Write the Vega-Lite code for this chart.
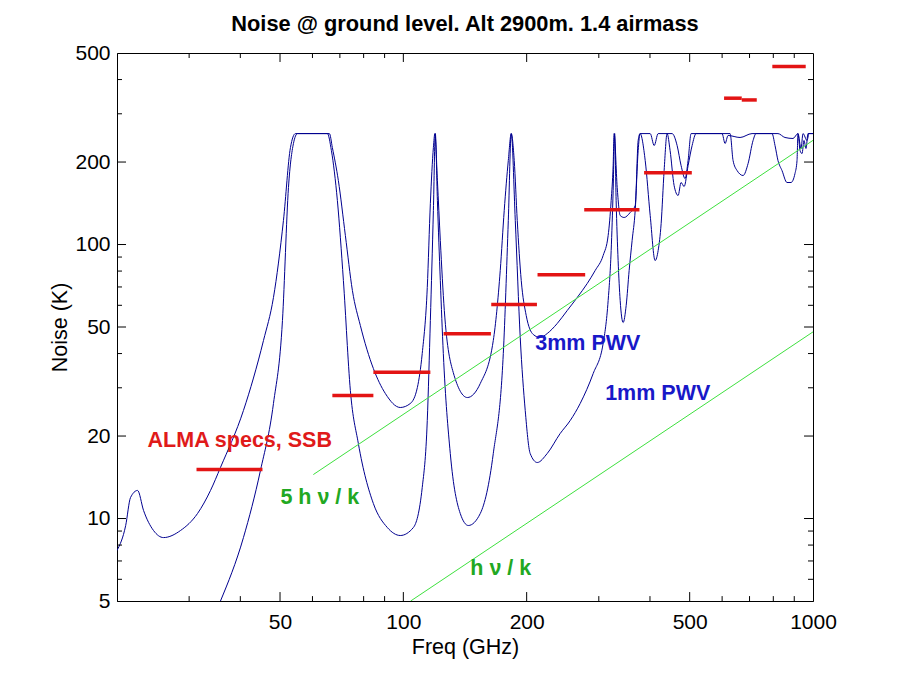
{
 "$schema": "https://vega.github.io/schema/vega-lite/v6.json",
 "autosize": {"type": "none"},
 "padding": {"left": 117, "top": 53, "right": 87, "bottom": 74},
 "width": 696,
 "height": 548,
 "background": "white",
 "title": {"text": "Noise @ ground level. Alt 2900m. 1.4 airmass", "font": "Liberation Sans", "fontSize": 21.8, "fontWeight": "bold", "color": "black", "offset": 6, "anchor": "middle"},
 "config": {
  "view": {"stroke": "black", "strokeWidth": 1},
  "axis": {"grid": false, "ticks": false, "domainColor": "black", "labelColor": "black", "titleColor": "black", "labelFont": "Liberation Sans", "titleFont": "Liberation Sans", "labelFontSize": 21, "titleFontSize": 21.5, "titleFontWeight": "normal", "labelFlush": false, "labelOverlap": false, "domainWidth": 1}
 },
 "datasets": {
  "curves": [
   {"s": "3mm", "f": 20.0, "T": 7.64}, {"s": "3mm", "f": 21.0, "T": 9.43}, {"s": "3mm", "f": 21.58, "T": 11.93}, {"s": "3mm", "f": 22.45, "T": 12.66},
   {"s": "3mm", "f": 23.22, "T": 10.7}, {"s": "3mm", "f": 24.56, "T": 9.04}, {"s": "3mm", "f": 25.98, "T": 8.52}, {"s": "3mm", "f": 28.58, "T": 9.04},
   {"s": "3mm", "f": 31.45, "T": 10.43}, {"s": "3mm", "f": 33.83, "T": 12.66}, {"s": "3mm", "f": 35.78, "T": 15.36}, {"s": "3mm", "f": 40.71, "T": 24.79},
   {"s": "3mm", "f": 45.56, "T": 44.63}, {"s": "3mm", "f": 48.19, "T": 64.06}, {"s": "3mm", "f": 50.97, "T": 122.4}, {"s": "3mm", "f": 53.02, "T": 225.9},
   {"s": "3mm", "f": 54.53, "T": 254}, {"s": "3mm", "f": 66.0, "T": 254}, {"s": "3mm", "f": 67.1, "T": 225.9}, {"s": "3mm", "f": 69.4, "T": 171.2},
   {"s": "3mm", "f": 72.2, "T": 107.8}, {"s": "3mm", "f": 75.1, "T": 67.96}, {"s": "3mm", "f": 78.54, "T": 50.6}, {"s": "3mm", "f": 84.5, "T": 35.27},
   {"s": "3mm", "f": 90.4, "T": 28.58}, {"s": "3mm", "f": 98.3, "T": 25.42}, {"s": "3mm", "f": 104.0, "T": 26.29}, {"s": "3mm", "f": 108.2, "T": 30.07},
   {"s": "3mm", "f": 111.2, "T": 40.02}, {"s": "3mm", "f": 114.4, "T": 69.67}, {"s": "3mm", "f": 116.4, "T": 141.1}, {"s": "3mm", "f": 118.4, "T": 225.9},
   {"s": "3mm", "f": 119.4, "T": 254}, {"s": "3mm", "f": 121.1, "T": 171.2}, {"s": "3mm", "f": 123.1, "T": 103.4}, {"s": "3mm", "f": 125.9, "T": 57.42},
   {"s": "3mm", "f": 132.4, "T": 34.1}, {"s": "3mm", "f": 143.3, "T": 27.64}, {"s": "3mm", "f": 154.1, "T": 31.1}, {"s": "3mm", "f": 165.8, "T": 44.63},
   {"s": "3mm", "f": 172.4, "T": 80.4}, {"s": "3mm", "f": 176.3, "T": 133.1}, {"s": "3mm", "f": 180.4, "T": 202.6}, {"s": "3mm", "f": 183.4, "T": 254},
   {"s": "3mm", "f": 186.5, "T": 202.6}, {"s": "3mm", "f": 189.7, "T": 122.4}, {"s": "3mm", "f": 194.0, "T": 73.9}, {"s": "3mm", "f": 199.5, "T": 55.06},
   {"s": "3mm", "f": 207.6, "T": 46.94}, {"s": "3mm", "f": 215.9, "T": 45.77}, {"s": "3mm", "f": 224.5, "T": 47.34}, {"s": "3mm", "f": 237.4, "T": 51.47},
   {"s": "3mm", "f": 251.2, "T": 57.42}, {"s": "3mm", "f": 265.7, "T": 64.06}, {"s": "3mm", "f": 281.1, "T": 72.06}, {"s": "3mm", "f": 294.0, "T": 80.4},
   {"s": "3mm", "f": 307.4, "T": 91.17}, {"s": "3mm", "f": 316.2, "T": 107.8}, {"s": "3mm", "f": 321.6, "T": 144.7}, {"s": "3mm", "f": 325.2, "T": 194.2},
   {"s": "3mm", "f": 327.0, "T": 254}, {"s": "3mm", "f": 332.7, "T": 161.4}, {"s": "3mm", "f": 338.3, "T": 127.6}, {"s": "3mm", "f": 346.0, "T": 125.5},
   {"s": "3mm", "f": 357.9, "T": 130.9}, {"s": "3mm", "f": 368.1, "T": 138.8}, {"s": "3mm", "f": 374.3, "T": 239.7}, {"s": "3mm", "f": 378.4, "T": 254},
   {"s": "3mm", "f": 400.5, "T": 254}, {"s": "3mm", "f": 409.6, "T": 229.8}, {"s": "3mm", "f": 418.8, "T": 254}, {"s": "3mm", "f": 453.0, "T": 254},
   {"s": "3mm", "f": 465.9, "T": 229.8}, {"s": "3mm", "f": 476.4, "T": 194.2}, {"s": "3mm", "f": 487.3, "T": 174.1}, {"s": "3mm", "f": 495.6, "T": 202.6},
   {"s": "3mm", "f": 504.0, "T": 254}, {"s": "3mm", "f": 599.8, "T": 254}, {"s": "3mm", "f": 610.1, "T": 233.7}, {"s": "3mm", "f": 620.5, "T": 250},
   {"s": "3mm", "f": 663.7, "T": 245.8}, {"s": "3mm", "f": 709.9, "T": 254}, {"s": "3mm", "f": 821.3, "T": 254}, {"s": "3mm", "f": 854.3, "T": 245.8},
   {"s": "3mm", "f": 893.6, "T": 243.8}, {"s": "3mm", "f": 919.1, "T": 254}, {"s": "3mm", "f": 934.8, "T": 224.1}, {"s": "3mm", "f": 945.4, "T": 254},
   {"s": "3mm", "f": 967.0, "T": 239.7}, {"s": "3mm", "f": 977.7, "T": 254}, {"s": "3mm", "f": 1000, "T": 254},
   {"s": "1mm", "f": 35.78, "T": 5.0}, {"s": "1mm", "f": 40.71, "T": 8.52}, {"s": "1mm", "f": 44.79, "T": 14.97}, {"s": "1mm", "f": 48.19, "T": 26.29},
   {"s": "1mm", "f": 50.69, "T": 52.8}, {"s": "1mm", "f": 52.43, "T": 161.4}, {"s": "1mm", "f": 53.92, "T": 233.7}, {"s": "1mm", "f": 55.15, "T": 254},
   {"s": "1mm", "f": 65.26, "T": 254}, {"s": "1mm", "f": 66.74, "T": 220.3}, {"s": "1mm", "f": 69.02, "T": 144.7}, {"s": "1mm", "f": 71.4, "T": 73.9},
   {"s": "1mm", "f": 74.25, "T": 29.32}, {"s": "1mm", "f": 77.66, "T": 18.78}, {"s": "1mm", "f": 84.5, "T": 11.34}, {"s": "1mm", "f": 91.4, "T": 9.27},
   {"s": "1mm", "f": 98.3, "T": 8.67}, {"s": "1mm", "f": 105.8, "T": 9.27}, {"s": "1mm", "f": 111.2, "T": 12.97}, {"s": "1mm", "f": 114.4, "T": 22.79},
   {"s": "1mm", "f": 116.4, "T": 52.8}, {"s": "1mm", "f": 118.4, "T": 133.1}, {"s": "1mm", "f": 119.7, "T": 254}, {"s": "1mm", "f": 121.1, "T": 144.7},
   {"s": "1mm", "f": 123.1, "T": 73.9}, {"s": "1mm", "f": 125.2, "T": 40.02}, {"s": "1mm", "f": 130.2, "T": 17.27}, {"s": "1mm", "f": 137.7, "T": 10.43},
   {"s": "1mm", "f": 144.1, "T": 9.43}, {"s": "1mm", "f": 154.1, "T": 10.43}, {"s": "1mm", "f": 165.8, "T": 17.27}, {"s": "1mm", "f": 175.4, "T": 40.02},
   {"s": "1mm", "f": 180.4, "T": 122.4}, {"s": "1mm", "f": 183.4, "T": 254}, {"s": "1mm", "f": 187.6, "T": 122.4}, {"s": "1mm", "f": 192.9, "T": 45.77},
   {"s": "1mm", "f": 198.4, "T": 24.79}, {"s": "1mm", "f": 204.0, "T": 17.27}, {"s": "1mm", "f": 212.3, "T": 16.01}, {"s": "1mm", "f": 224.5, "T": 17.27},
   {"s": "1mm", "f": 241.4, "T": 20.42}, {"s": "1mm", "f": 255.5, "T": 22.79}, {"s": "1mm", "f": 270.2, "T": 26.29}, {"s": "1mm", "f": 290.7, "T": 33.82},
   {"s": "1mm", "f": 307.4, "T": 43.52}, {"s": "1mm", "f": 316.2, "T": 62.45}, {"s": "1mm", "f": 321.6, "T": 95.1}, {"s": "1mm", "f": 325.2, "T": 157.4},
   {"s": "1mm", "f": 328.0, "T": 254}, {"s": "1mm", "f": 330.7, "T": 144.7}, {"s": "1mm", "f": 334.4, "T": 87.4}, {"s": "1mm", "f": 338.3, "T": 62.45},
   {"s": "1mm", "f": 344.0, "T": 51.9}, {"s": "1mm", "f": 349.9, "T": 59.9}, {"s": "1mm", "f": 355.8, "T": 80.4}, {"s": "1mm", "f": 361.8, "T": 103.4},
   {"s": "1mm", "f": 368.1, "T": 133.1}, {"s": "1mm", "f": 374.3, "T": 220.3}, {"s": "1mm", "f": 378.4, "T": 254}, {"s": "1mm", "f": 389.4, "T": 202.6},
   {"s": "1mm", "f": 400.5, "T": 127.6}, {"s": "1mm", "f": 411.7, "T": 87.4}, {"s": "1mm", "f": 418.8, "T": 95.1}, {"s": "1mm", "f": 425.9, "T": 119.3},
   {"s": "1mm", "f": 433.1, "T": 186.2}, {"s": "1mm", "f": 440.4, "T": 254}, {"s": "1mm", "f": 447.9, "T": 220.3}, {"s": "1mm", "f": 458.1, "T": 164.2},
   {"s": "1mm", "f": 468.5, "T": 151.0}, {"s": "1mm", "f": 476.4, "T": 168.4}, {"s": "1mm", "f": 484.6, "T": 162.8}, {"s": "1mm", "f": 495.6, "T": 194.2},
   {"s": "1mm", "f": 506.9, "T": 229.8}, {"s": "1mm", "f": 518.4, "T": 254}, {"s": "1mm", "f": 627.5, "T": 254}, {"s": "1mm", "f": 638.1, "T": 202.6},
   {"s": "1mm", "f": 652.6, "T": 186.2}, {"s": "1mm", "f": 675.1, "T": 178.6}, {"s": "1mm", "f": 694.3, "T": 197.5}, {"s": "1mm", "f": 714.0, "T": 239.7},
   {"s": "1mm", "f": 726.1, "T": 254}, {"s": "1mm", "f": 794.3, "T": 254}, {"s": "1mm", "f": 807.8, "T": 229.8}, {"s": "1mm", "f": 821.3, "T": 202.6},
   {"s": "1mm", "f": 840.1, "T": 186.2}, {"s": "1mm", "f": 864.1, "T": 168.4}, {"s": "1mm", "f": 883.7, "T": 168.4}, {"s": "1mm", "f": 903.7, "T": 181.6},
   {"s": "1mm", "f": 914.1, "T": 202.6}, {"s": "1mm", "f": 919.1, "T": 254}, {"s": "1mm", "f": 929.7, "T": 220.3}, {"s": "1mm", "f": 940.2, "T": 214.8},
   {"s": "1mm", "f": 950.7, "T": 239.7}, {"s": "1mm", "f": 961.4, "T": 224.1}, {"s": "1mm", "f": 972.2, "T": 254}, {"s": "1mm", "f": 1000, "T": 254}
  ],
  "hnu": [
   {"line": "5hnu/k", "f": 60.3, "T": 14.47}, {"line": "5hnu/k", "f": 1000, "T": 239.95},
   {"line": "hnu/k", "f": 104.2, "T": 5.0}, {"line": "hnu/k", "f": 1000, "T": 47.99}
  ],
  "alma": [
   {"band": 1, "f1": 31.27, "f2": 45.3, "T": 15.1},
   {"band": 2, "f1": 67.1, "f2": 84.5, "T": 28.1},
   {"band": 3, "f1": 84.5, "f2": 116.4, "T": 34.2},
   {"band": 4, "f1": 125.4, "f2": 163.6, "T": 47.2},
   {"band": 5, "f1": 163.9, "f2": 211.9, "T": 60.4},
   {"band": 6, "f1": 212.6, "f2": 277.9, "T": 77.5},
   {"band": 7, "f1": 276.4, "f2": 377.0, "T": 133.8},
   {"band": 8, "f1": 387.0, "f2": 506.0, "T": 182.7},
   {"band": 9, "f1": 606.6, "f2": 670.0, "T": 342},
   {"band": 9, "f1": 670.0, "f2": 729.0, "T": 337},
   {"band": 10, "f1": 795.6, "f2": 959.9, "T": 446.2}
  ],
  "labels": [
   {"text": "ALMA specs, SSB", "g": "alma", "f": 23.75, "T": 19.26},
   {"text": "5 h ν / k", "g": "hnu", "f": 50.1, "T": 11.93},
   {"text": "h ν / k", "g": "hnu", "f": 145.7, "T": 6.57},
   {"text": "3mm PWV", "g": "pwv", "f": 209.9, "T": 43.5},
   {"text": "1mm PWV", "g": "pwv", "f": 310.9, "T": 28.36}
  ],
  "xticks": [
   {"f": 30, "kind": "minor"}, {"f": 40, "kind": "minor"}, {"f": 50, "kind": "major"}, {"f": 60, "kind": "minor"},
   {"f": 70, "kind": "minor"}, {"f": 80, "kind": "minor"}, {"f": 90, "kind": "minor"}, {"f": 100, "kind": "major"},
   {"f": 200, "kind": "major"}, {"f": 300, "kind": "minor"}, {"f": 400, "kind": "minor"}, {"f": 500, "kind": "major"},
   {"f": 600, "kind": "minor"}, {"f": 700, "kind": "minor"}, {"f": 800, "kind": "minor"}, {"f": 900, "kind": "minor"}
  ],
  "yticks": [
   {"T": 6, "kind": "minor"}, {"T": 7, "kind": "minor"}, {"T": 8, "kind": "minor"}, {"T": 9, "kind": "minor"},
   {"T": 10, "kind": "major"}, {"T": 20, "kind": "major"}, {"T": 30, "kind": "minor"}, {"T": 40, "kind": "minor"},
   {"T": 50, "kind": "major"}, {"T": 60, "kind": "minor"}, {"T": 70, "kind": "minor"}, {"T": 80, "kind": "minor"},
   {"T": 90, "kind": "minor"}, {"T": 100, "kind": "major"}, {"T": 200, "kind": "major"}, {"T": 300, "kind": "minor"},
   {"T": 400, "kind": "minor"}
  ]
 },
 "layer": [
  {
   "data": {"name": "curves"},
   "mark": {"type": "line", "color": "#00008f", "strokeWidth": 1, "clip": true, "interpolate": "monotone"},
   "encoding": {
    "x": {"field": "f", "type": "quantitative", "scale": {"type": "log", "domain": [20, 1000], "nice": false},
          "axis": {"orient": "bottom", "values": [50, 100, 200, 500, 1000], "format": "d", "labelPadding": 10, "title": "Freq (GHz)", "titlePadding": 4}},
    "y": {"field": "T", "type": "quantitative", "scale": {"type": "log", "domain": [5, 500], "nice": false},
          "axis": {"orient": "left", "values": [5, 10, 20, 50, 100, 200, 500], "format": "d", "labelPadding": 7, "title": "Noise (K)", "titlePadding": 3}},
    "detail": {"field": "s"}
   }
  },
  {
   "data": {"name": "hnu"},
   "mark": {"type": "line", "color": "#3ee03e", "strokeWidth": 1, "clip": true},
   "encoding": {
    "x": {"field": "f", "type": "quantitative"},
    "y": {"field": "T", "type": "quantitative"},
    "detail": {"field": "line"}
   }
  },
  {
   "data": {"name": "alma"},
   "mark": {"type": "rule", "color": "#e31414", "strokeWidth": 3.5, "clip": true},
   "encoding": {
    "x": {"field": "f1", "type": "quantitative"},
    "x2": {"field": "f2"},
    "y": {"field": "T", "type": "quantitative"}
   }
  },
  {
   "data": {"name": "labels"},
   "mark": {"type": "text", "align": "left", "baseline": "middle", "font": "Liberation Sans", "fontSize": 21.5, "fontWeight": "bold"},
   "encoding": {
    "x": {"field": "f", "type": "quantitative"},
    "y": {"field": "T", "type": "quantitative"},
    "text": {"field": "text"},
    "color": {"field": "g", "type": "nominal", "scale": {"domain": ["alma", "hnu", "pwv"], "range": ["#e01a1a", "#22a822", "#1818c8"]}, "legend": null}
   }
  },
  {
   "data": {"name": "xticks"},
   "transform": [{"filter": "datum.kind == 'major'"}],
   "mark": {"type": "rule", "color": "black", "strokeWidth": 1},
   "encoding": {
    "x": {"field": "f", "type": "quantitative"},
    "y": {"datum": 5, "type": "quantitative"},
    "y2": {"datum": 5.39}
   }
  },
  {
   "data": {"name": "xticks"},
   "transform": [{"filter": "datum.kind == 'minor'"}],
   "mark": {"type": "rule", "color": "black", "strokeWidth": 1},
   "encoding": {
    "x": {"field": "f", "type": "quantitative"},
    "y": {"datum": 5, "type": "quantitative"},
    "y2": {"datum": 5.21}
   }
  },
  {
   "data": {"name": "xticks"},
   "transform": [{"filter": "datum.kind == 'major'"}],
   "mark": {"type": "rule", "color": "black", "strokeWidth": 1},
   "encoding": {
    "x": {"field": "f", "type": "quantitative"},
    "y": {"datum": 463.6, "type": "quantitative"},
    "y2": {"datum": 500}
   }
  },
  {
   "data": {"name": "xticks"},
   "transform": [{"filter": "datum.kind == 'minor'"}],
   "mark": {"type": "rule", "color": "black", "strokeWidth": 1},
   "encoding": {
    "x": {"field": "f", "type": "quantitative"},
    "y": {"datum": 479.4, "type": "quantitative"},
    "y2": {"datum": 500}
   }
  },
  {
   "data": {"name": "yticks"},
   "transform": [{"filter": "datum.kind == 'major'"}],
   "mark": {"type": "rule", "color": "black", "strokeWidth": 1},
   "encoding": {
    "y": {"field": "T", "type": "quantitative"},
    "x": {"datum": 20, "type": "quantitative"},
    "x2": {"datum": 21.04}
   }
  },
  {
   "data": {"name": "yticks"},
   "transform": [{"filter": "datum.kind == 'minor'"}],
   "mark": {"type": "rule", "color": "black", "strokeWidth": 1},
   "encoding": {
    "y": {"field": "T", "type": "quantitative"},
    "x": {"datum": 20, "type": "quantitative"},
    "x2": {"datum": 20.57}
   }
  },
  {
   "data": {"name": "yticks"},
   "transform": [{"filter": "datum.kind == 'major'"}],
   "mark": {"type": "rule", "color": "black", "strokeWidth": 1},
   "encoding": {
    "y": {"field": "T", "type": "quantitative"},
    "x": {"datum": 950.8, "type": "quantitative"},
    "x2": {"datum": 1000}
   }
  },
  {
   "data": {"name": "yticks"},
   "transform": [{"filter": "datum.kind == 'minor'"}],
   "mark": {"type": "rule", "color": "black", "strokeWidth": 1},
   "encoding": {
    "y": {"field": "T", "type": "quantitative"},
    "x": {"datum": 972.3, "type": "quantitative"},
    "x2": {"datum": 1000}
   }
  }
 ]
}
